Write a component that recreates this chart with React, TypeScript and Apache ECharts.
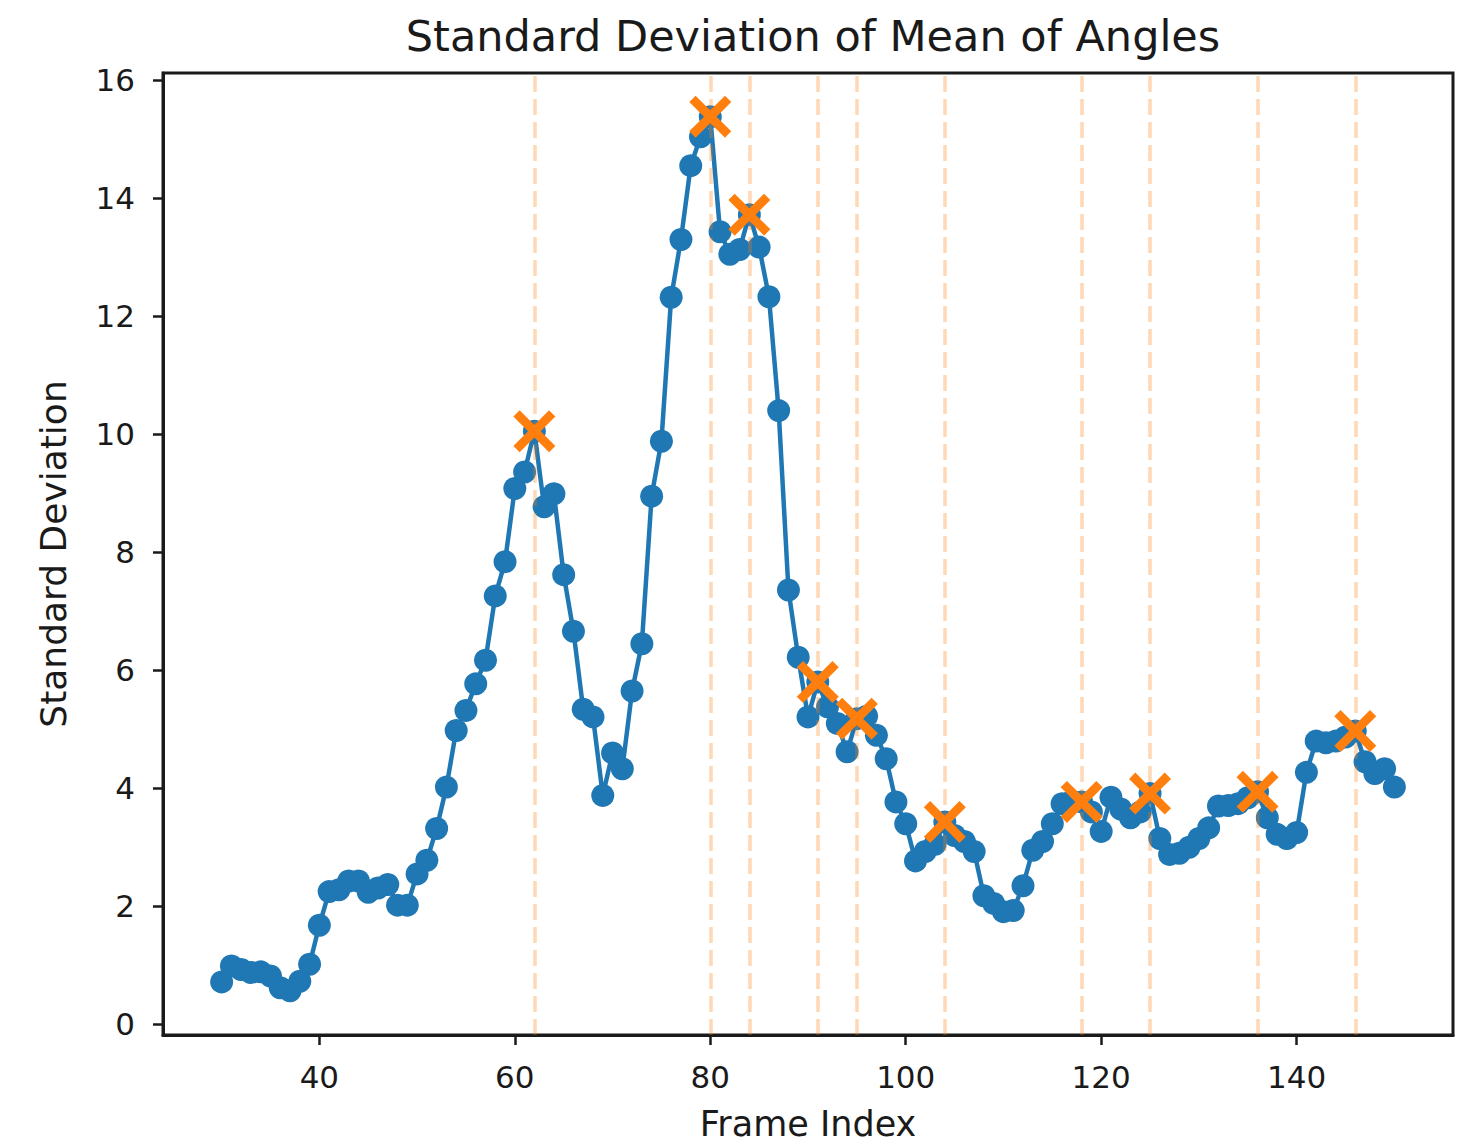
import React, { useEffect, useRef } from "react";
import * as echarts from "echarts";

const frameIndex: number[] = [
  30, 31, 32, 33, 34, 35, 36, 37, 38, 39,
  40, 41, 42, 43, 44, 45, 46, 47, 48, 49,
  50, 51, 52, 53, 54, 55, 56, 57, 58, 59,
  60, 61, 62, 63, 64, 65, 66, 67, 68, 69,
  70, 71, 72, 73, 74, 75, 76, 77, 78, 79,
  80, 81, 82, 83, 84, 85, 86, 87, 88, 89,
  90, 91, 92, 93, 94, 95, 96, 97, 98, 99,
  100, 101, 102, 103, 104, 105, 106, 107, 108, 109,
  110, 111, 112, 113, 114, 115, 116, 117, 118, 119,
  120, 121, 122, 123, 124, 125, 126, 127, 128, 129,
  130, 131, 132, 133, 134, 135, 136, 137, 138, 139,
  140, 141, 142, 143, 144, 145, 146, 147, 148, 149,
  150,
];

const stdValues: number[] = [
  0.72, 0.99, 0.93, 0.88, 0.89, 0.82, 0.62, 0.57, 0.73, 1.02,
  1.68, 2.25, 2.28, 2.43, 2.43, 2.24, 2.31, 2.37, 2.02, 2.02,
  2.55, 2.78, 3.32, 4.02, 4.98, 5.32, 5.77, 6.17, 7.26, 7.84,
  9.08, 9.36, 10.05, 8.77, 8.99, 7.62, 6.66, 5.34, 5.21, 3.88,
  4.6, 4.33, 5.65, 6.45, 8.95, 9.88, 12.32, 13.3, 14.55, 15.04,
  15.38, 13.43, 13.05, 13.13, 13.72, 13.17, 12.33, 10.4, 7.36, 6.22,
  5.21, 5.8, 5.38, 5.1, 4.62, 5.18, 5.22, 4.9, 4.5, 3.77,
  3.4, 2.77, 2.93, 3.05, 3.43, 3.2, 3.1, 2.93, 2.18, 2.05,
  1.91, 1.93, 2.35, 2.95, 3.1, 3.4, 3.74, 3.78, 3.77, 3.6,
  3.27, 3.85, 3.65, 3.5, 3.6, 3.91, 3.15, 2.88, 2.9, 3.0,
  3.15, 3.33, 3.7, 3.71, 3.74, 3.84, 3.94, 3.5, 3.22, 3.15,
  3.25, 4.27, 4.8, 4.77, 4.8, 4.87, 4.97, 4.45, 4.25, 4.33,
  4.02,
];

const peakFrames: number[] = [62, 80, 84, 91, 95, 104, 118, 125, 136, 146];

const xTicks: number[] = [40, 60, 80, 100, 120, 140];
const yTicks: number[] = [0, 2, 4, 6, 8, 10, 12, 14, 16];

const TITLE = "Standard Deviation of Mean of Angles";
const X_NAME = "Frame Index";
const Y_NAME = "Standard Deviation";

const X_SYMBOL =
  "path://M3,0 L10,7 L17,0 L20,3 L13,10 L20,17 L17,20 L10,13 L3,20 L0,17 L7,10 L0,3 Z";

export default function App() {
  const ref = useRef<HTMLDivElement>(null);

  useEffect(() => {
    if (!ref.current) return;
    const chart = echarts.init(ref.current, null, { renderer: "svg" });

    const lineData = frameIndex.map((f, i) => [f, stdValues[i]]);
    const peakData = peakFrames.map((f) => [f, stdValues[frameIndex.indexOf(f)]]);

    const font = "DejaVu Sans";

    chart.setOption({
      animation: false,
      backgroundColor: "#ffffff",
      title: {
        text: TITLE,
        left: 808,
        textAlign: "center",
        top: 9,
        textStyle: {
          fontFamily: font,
          fontSize: 43,
          fontWeight: "normal",
          color: "#1a1a1a",
        },
      },
      grid: {
        left: 163,
        right: 15,
        top: 73,
        bottom: 108,
        show: true,
        outerBoundsMode: "none",
        containLabel: false,
        borderColor: "#1a1a1a",
        borderWidth: 3,
        backgroundColor: "transparent",
      },
      xAxis: {
        type: "value",
        min: 24,
        max: 156,
        name: X_NAME,
        nameLocation: "middle",
        nameGap: 71,
        nameTextStyle: { fontFamily: font, fontSize: 35, color: "#1a1a1a" },
        axisLine: { show: true, onZero: false, lineStyle: { color: "#1a1a1a", width: 3 } },
        axisTick: {
          show: true,
          inside: false,
          length: 10,
          customValues: xTicks,
          lineStyle: { color: "#1a1a1a", width: 2.5 },
        },
        axisLabel: {
          show: true,
          margin: 26,
          customValues: xTicks,
          fontFamily: font,
          fontSize: 31,
          color: "#1a1a1a",
        },
        splitLine: { show: false },
      },
      yAxis: {
        type: "value",
        min: -0.18,
        max: 16.12,
        name: Y_NAME,
        nameLocation: "middle",
        nameRotate: 90,
        nameGap: 92,
        nameTextStyle: { fontFamily: font, fontSize: 36, color: "#1a1a1a" },
        axisLine: { show: true, onZero: false, lineStyle: { color: "#1a1a1a", width: 3 } },
        axisTick: {
          show: true,
          inside: false,
          length: 10,
          customValues: yTicks,
          lineStyle: { color: "#1a1a1a", width: 2.5 },
        },
        axisLabel: {
          show: true,
          margin: 28,
          customValues: yTicks,
          fontFamily: font,
          fontSize: 31,
          color: "#1a1a1a",
        },
        splitLine: { show: false },
      },
      series: [
        {
          type: "line",
          data: lineData,
          symbol: "circle",
          symbolSize: 23,
          showSymbol: true,
          showAllSymbol: true,
          itemStyle: { color: "#1f77b4", opacity: 1 },
          lineStyle: { color: "#1f77b4", width: 4.5 },
          z: 2,
          silent: true,
        },
        {
          type: "scatter",
          data: peakData,
          symbol: X_SYMBOL,
          symbolSize: 42,
          itemStyle: { color: "#ff7f0e", opacity: 1 },
          z: 3,
          silent: true,
        },
        {
          type: "line",
          data: [],
          z: 4,
          silent: true,
          markLine: {
            silent: true,
            symbol: ["none", "none"],
            label: { show: false },
            lineStyle: {
              color: "rgba(255,127,14,0.3)",
              width: 3.5,
              type: [16, 7],
            },
            data: peakFrames.map((f) => ({ xAxis: f })),
          },
        },
      ],
    });

    return () => {
      chart.dispose();
    };
  }, []);

  return (
    <div
      ref={ref}
      style={{ position: "absolute", left: 0, top: 0, width: 1468, height: 1143 }}
    />
  );
}
